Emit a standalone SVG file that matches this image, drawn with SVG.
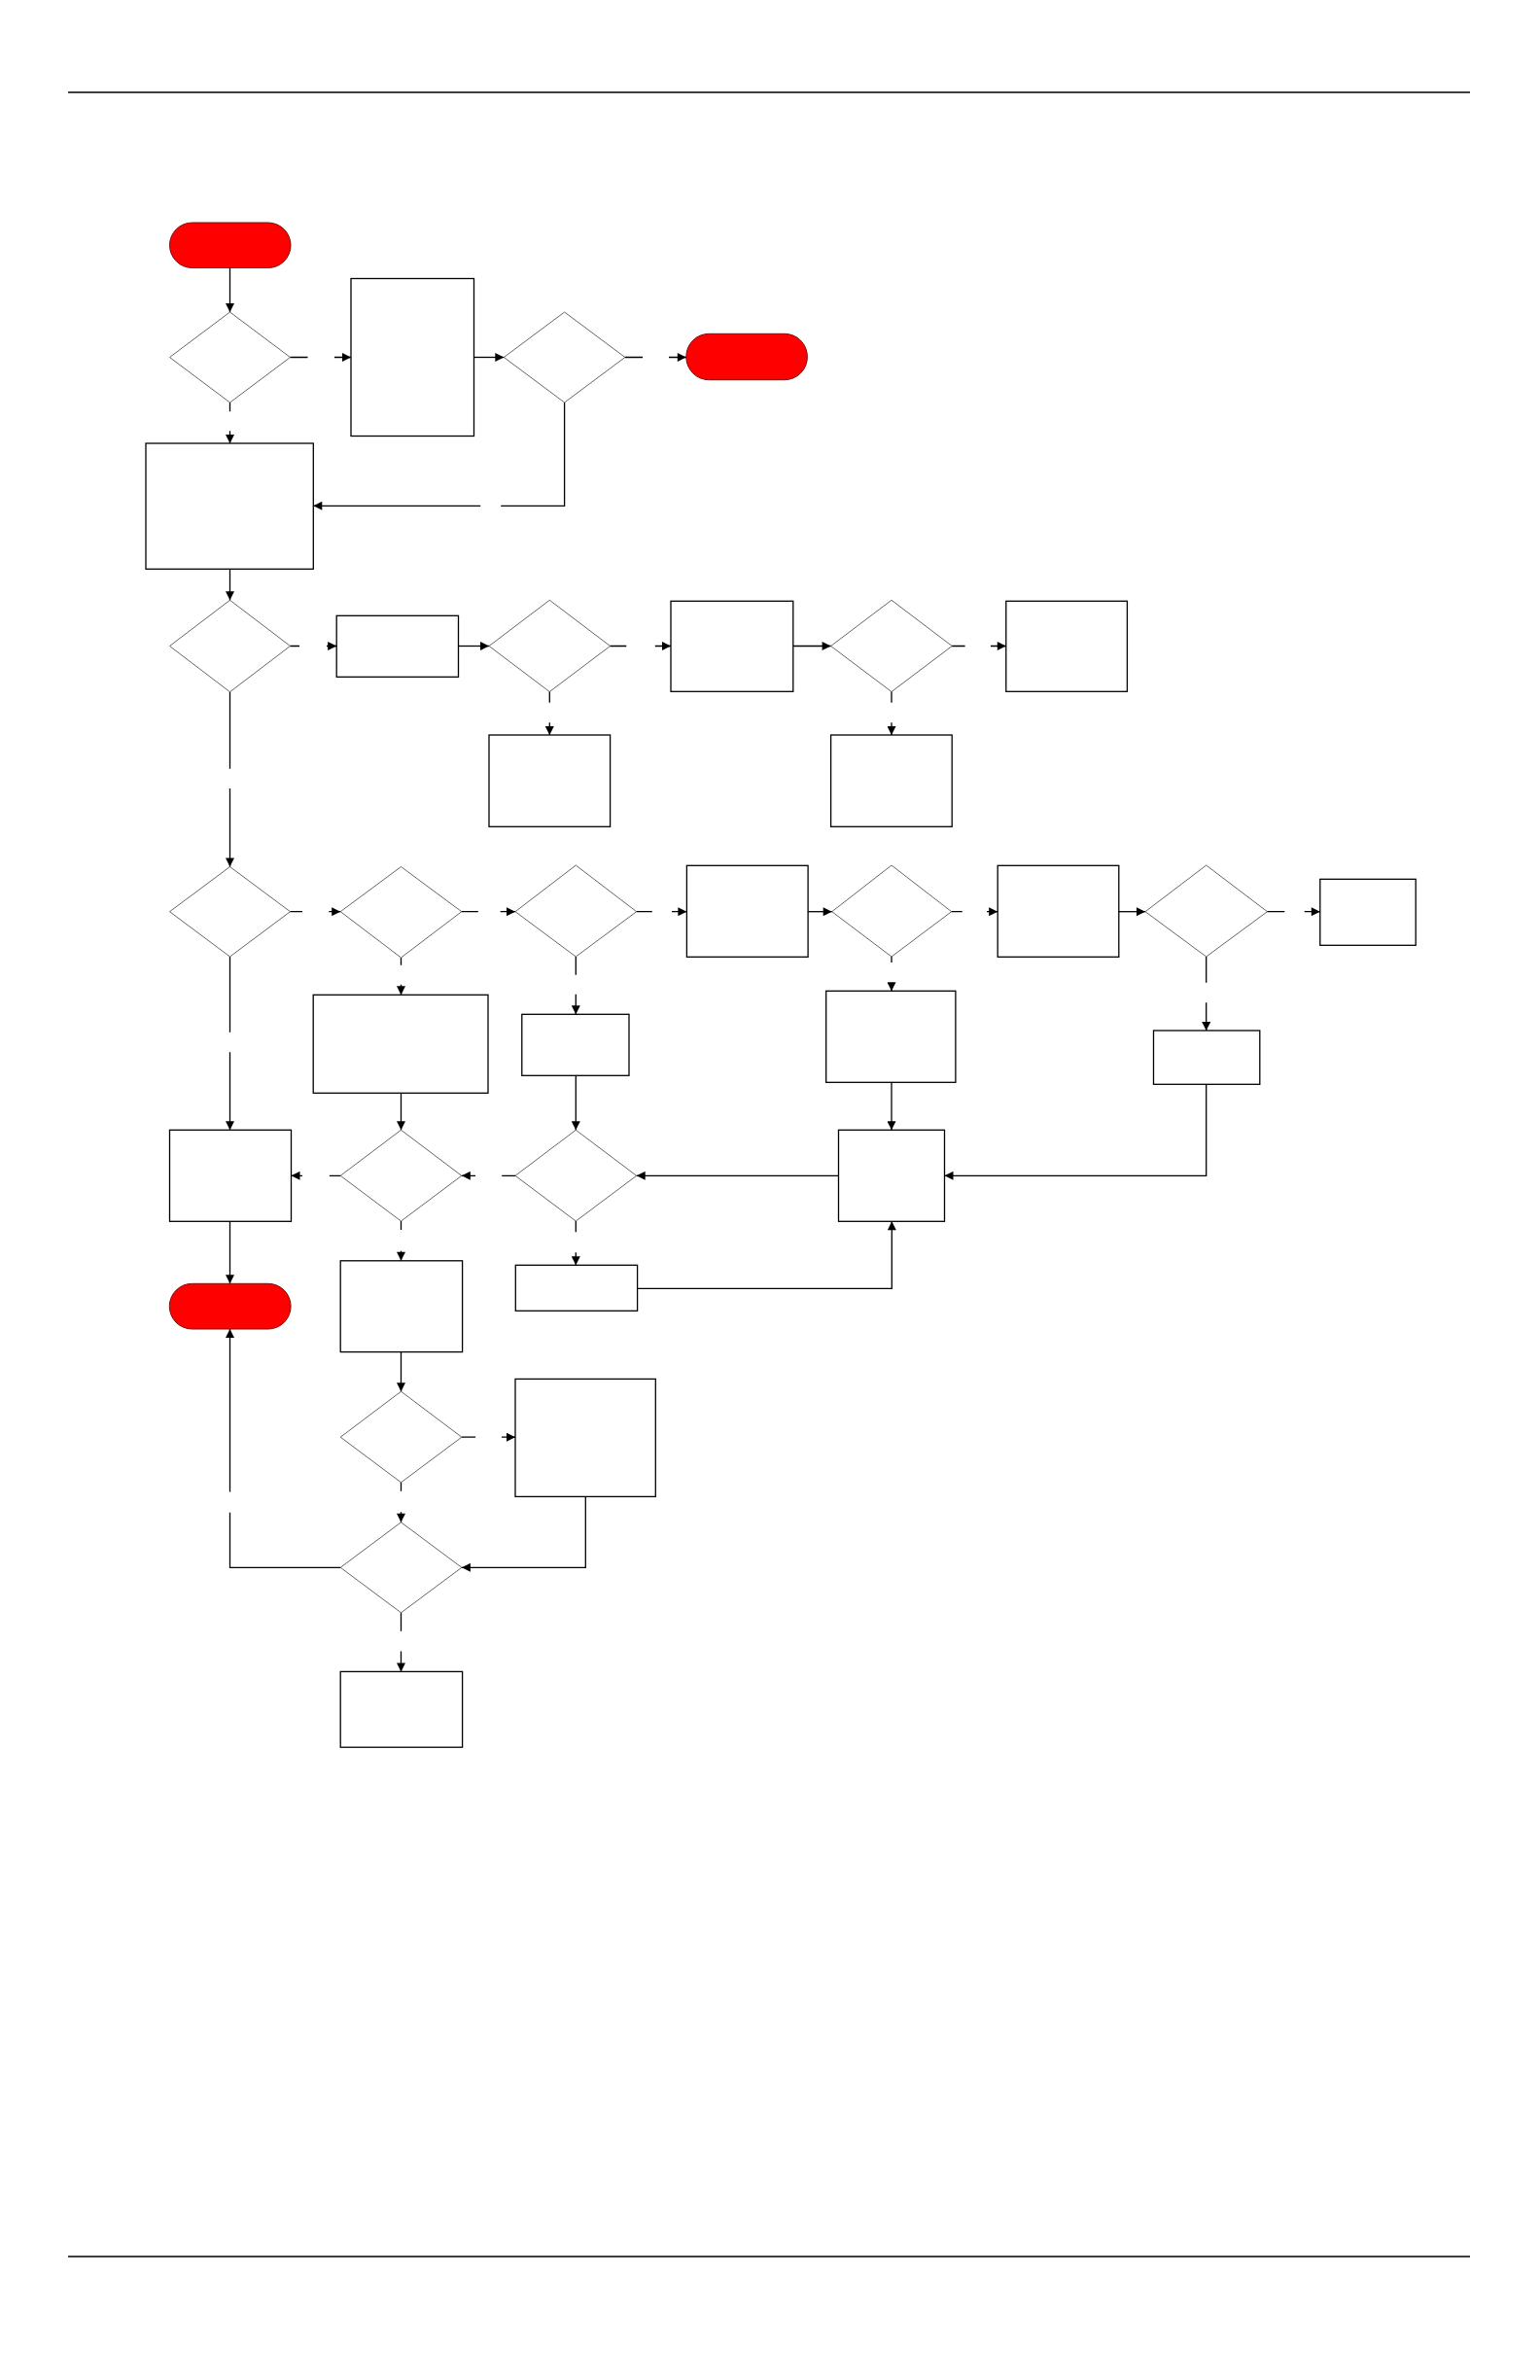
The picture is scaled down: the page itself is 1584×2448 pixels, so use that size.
<svg xmlns="http://www.w3.org/2000/svg" width="1584" height="2448" viewBox="0 0 1584 2448">
<style>
.rule{stroke:#000;stroke-width:1.6;fill:none}
.box{fill:#fff;stroke:#000;stroke-width:1.3}
.dia{fill:#fff;stroke:#555;stroke-width:0.9}
.term{fill:#ff0000;stroke:#7a1010;stroke-width:1}
.con{fill:none;stroke:#000;stroke-width:1.3;marker-end:url(#arr)}
.ln{fill:none;stroke:#000;stroke-width:1.3}
</style>
<defs>
<marker id="arr" viewBox="0 0 10 10" refX="10" refY="5" markerWidth="11" markerHeight="9" markerUnits="userSpaceOnUse" orient="auto">
<path d="M0,0 L10,5 L0,10 z" fill="#000"/>
</marker>
</defs>
<rect width="1584" height="2448" fill="#fff"/>
<line class="rule" x1="70" y1="95" x2="1512" y2="95"/>
<line class="rule" x1="70" y1="2321" x2="1512" y2="2321"/>

<g id="nodes">
<g id="t1"><rect class="term" x="174.5" y="229" width="124.5" height="46.5" rx="23.2"/></g>
<g id="d1"><polygon class="dia" points="236.5,321 298.5,367.5 236.5,414 174.5,367.5"/></g>
<g id="b2"><rect class="box" x="361" y="286.5" width="126.5" height="162"/></g>
<g id="d2"><polygon class="dia" points="580.6,321 642.9,367.5 580.6,414 518.3,367.5"/></g>
<g id="t2"><rect class="term" x="705.8" y="343.3" width="124.6" height="47.4" rx="23.5"/></g>
<g id="b3"><rect class="box" x="150" y="456" width="172.3" height="129.3"/></g>
<g id="d3"><polygon class="dia" points="236.5,617.3 298.5,664.5 236.5,711.7 174.5,664.5"/></g>
<g id="b4"><rect class="box" x="346.2" y="633.3" width="125.3" height="63"/></g>
<g id="d4"><polygon class="dia" points="565.3,617.3 627.6,664.5 565.3,711.5 503,664.5"/></g>
<g id="b5"><rect class="box" x="690" y="618.3" width="125.8" height="93"/></g>
<g id="d5"><polygon class="dia" points="917,617.3 979.2,664.5 917,711.5 854.6,664.5"/></g>
<g id="b6"><rect class="box" x="1034.8" y="618.3" width="124.6" height="93"/></g>
<g id="b7"><rect class="box" x="503" y="756" width="124.6" height="94.3"/></g>
<g id="b8"><rect class="box" x="854.6" y="756" width="124.6" height="94.3"/></g>
<g id="d6"><polygon class="dia" points="236.5,891.5 298.5,937.7 236.5,984 174.5,937.7"/></g>
<g id="d7"><polygon class="dia" points="412.5,891.5 474.8,937.7 412.5,985 350.2,937.7"/></g>
<g id="d8"><polygon class="dia" points="592.3,890 654.7,937.7 592.3,984 530,937.7"/></g>
<g id="b9"><rect class="box" x="706.4" y="890.3" width="124.7" height="94"/></g>
<g id="d9"><polygon class="dia" points="917,890 978.7,937.7 917,984 855.7,937.7"/></g>
<g id="b10"><rect class="box" x="1026.2" y="890.3" width="124.6" height="94"/></g>
<g id="d10"><polygon class="dia" points="1240.7,890 1303.5,937.7 1240.7,984 1178,937.7"/></g>
<g id="b11"><rect class="box" x="1357.8" y="904.3" width="98.4" height="68"/></g>
<g id="b12"><rect class="box" x="322.2" y="1023.3" width="179.8" height="101"/></g>
<g id="b13"><rect class="box" x="536.8" y="1043.3" width="110.2" height="63"/></g>
<g id="b14"><rect class="box" x="849.7" y="1019.3" width="133.2" height="94"/></g>
<g id="b15"><rect class="box" x="1186.5" y="1060" width="109.3" height="55.3"/></g>
<g id="b16"><rect class="box" x="174.5" y="1162.3" width="125" height="94"/></g>
<g id="d11"><polygon class="dia" points="412.5,1162.3 474.8,1209.3 412.5,1256 350.2,1209.3"/></g>
<g id="d12"><polygon class="dia" points="592.3,1162.3 654.7,1209.3 592.3,1256 530,1209.3"/></g>
<g id="b17"><rect class="box" x="862.5" y="1162.3" width="109" height="94"/></g>
<g id="t3"><rect class="term" x="174.3" y="1320.3" width="124.8" height="46.7" rx="23.3"/></g>
<g id="b18"><rect class="box" x="350.2" y="1296.8" width="125.4" height="93.8"/></g>
<g id="b19"><rect class="box" x="530.3" y="1301.3" width="125.3" height="47"/></g>
<g id="d13"><polygon class="dia" points="412.5,1431.2 474.9,1478.2 412.5,1524.8 350.2,1478.2"/></g>
<g id="b20"><rect class="box" x="530" y="1418.4" width="144.3" height="121"/></g>
<g id="d14"><polygon class="dia" points="412.5,1565.8 474.9,1612.3 412.5,1658.8 350.2,1612.3"/></g>
<g id="b21"><rect class="box" x="350.2" y="1719.4" width="125.4" height="77.8"/></g>
</g>

<g id="connectors">
<path class="con" d="M236.5,275.5 L236.5,321"/>
<path class="con" d="M298.5,367.5 L316.5,367.5 M344,367.5 L361,367.5"/>
<path class="con" d="M487.5,367.5 L518.3,367.5"/>
<path class="con" d="M642.9,367.5 L661,367.5 M688,367.5 L705.8,367.5"/>
<path class="con" d="M580.6,414 L580.6,520.3 L515.2,520.3 M494.2,520.3 L322.3,520.3"/>
<path class="con" d="M236.5,414 L236.5,423.3 M236.5,443.3 L236.5,456"/>
<path class="con" d="M236.5,585.3 L236.5,617.3"/>
<path class="con" d="M298.5,664.5 L308,664.5 M336,664.5 L346.2,664.5"/>
<path class="con" d="M471.5,664.5 L503,664.5"/>
<path class="con" d="M627.6,664.5 L644.3,664.5 M673.8,664.5 L690,664.5"/>
<path class="con" d="M815.8,664.5 L854.6,664.5"/>
<path class="con" d="M979.2,664.5 L992.6,664.5 M1019,664.5 L1034.8,664.5"/>
<path class="con" d="M565.3,711.5 L565.3,722.7 M565.3,743.3 L565.3,756"/>
<path class="con" d="M917,711.5 L917,722.7 M917,743.3 L917,756"/>
<path class="con" d="M236.5,711.7 L236.5,790.7 M236.5,811 L236.5,891.5"/>
<path class="con" d="M298.5,937.7 L311,937.7 M338.3,937.7 L350.2,937.7"/>
<path class="con" d="M474.8,937.7 L491.8,937.7 M514.7,937.7 L530,937.7"/>
<path class="con" d="M654.7,937.7 L670.8,937.7 M691,937.7 L706.4,937.7"/>
<path class="con" d="M831.1,937.7 L855.7,937.7"/>
<path class="con" d="M978.7,937.7 L989.7,937.7 M1015,937.7 L1026.2,937.7"/>
<path class="con" d="M1150.8,937.7 L1178,937.7"/>
<path class="con" d="M1303.5,937.7 L1321.3,937.7 M1341.7,937.7 L1357.8,937.7"/>
<path class="con" d="M412.5,985 L412.5,992.7 M412.5,1012.7 L412.5,1023.3"/>
<path class="con" d="M592.3,984 L592.3,1002.7 M592.3,1022.7 L592.3,1043.3"/>
<path class="con" d="M917,984 L917,990 M917,1011 L917,1019.3"/>
<path class="con" d="M1240.7,984 L1240.7,1010.7 M1240.7,1031.3 L1240.7,1060"/>
<path class="con" d="M236.5,984 L236.5,1061.7 M236.5,1082.3 L236.5,1162.3"/>
<path class="con" d="M412.5,1124.3 L412.5,1162.3"/>
<path class="con" d="M592.3,1106.3 L592.3,1162.3"/>
<path class="con" d="M917,1113.3 L917,1162.3"/>
<path class="con" d="M1240.7,1115.3 L1240.7,1209.3 L971.5,1209.3"/>
<path class="con" d="M862.5,1209.3 L654.7,1209.3"/>
<path class="con" d="M530,1209.3 L516.2,1209.3 M489,1209.3 L474.8,1209.3"/>
<path class="con" d="M350.2,1209.3 L338.9,1209.3 M311,1209.3 L299.5,1209.3"/>
<path class="con" d="M236.5,1256.3 L236.5,1320.3"/>
<path class="con" d="M412.5,1256 L412.5,1265 M412.5,1286.7 L412.5,1296.8"/>
<path class="con" d="M592.3,1256 L592.3,1267.3 M592.3,1288.3 L592.3,1301.3"/>
<path class="con" d="M655.6,1325.3 L917.3,1325.3 L917.3,1256.3"/>
<path class="con" d="M412.5,1390.6 L412.5,1431.2"/>
<path class="con" d="M474.9,1478.2 L489.1,1478.2 M515.9,1478.2 L530,1478.2"/>
<path class="con" d="M412.5,1524.8 L412.5,1533.8 M412.5,1555.2 L412.5,1565.8"/>
<path class="con" d="M602.3,1539.4 L602.3,1612.3 L474.9,1612.3"/>
<path class="con" d="M350.2,1612.3 L236.5,1612.3 L236.5,1555.8 M236.5,1534.5 L236.5,1367"/>
<path class="con" d="M412.5,1658.8 L412.5,1677.7 M412.5,1698.4 L412.5,1719.4"/>
</g>
</svg>
